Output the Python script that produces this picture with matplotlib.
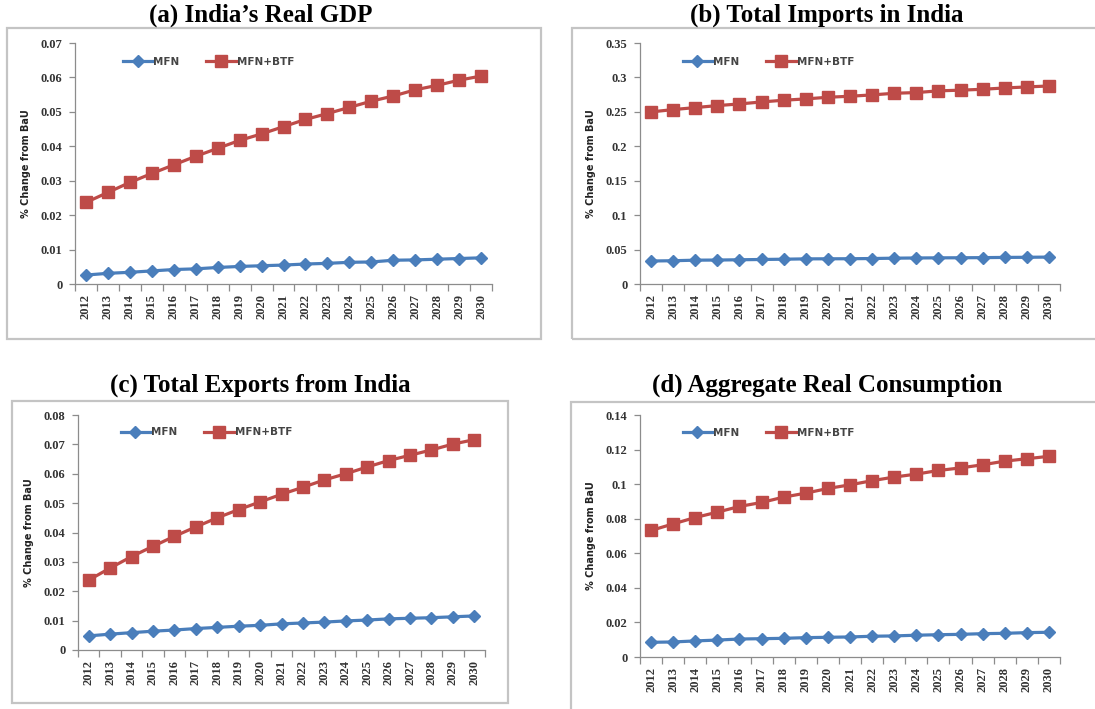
import matplotlib
matplotlib.use("Agg")
import matplotlib.pyplot as plt
from matplotlib.patches import Rectangle
from matplotlib.ticker import FuncFormatter, MultipleLocator
import numpy as np

years = [str(y) for y in range(2012, 2031)]

gdp_mfn = [0.0026, 0.0031, 0.0034, 0.0038, 0.0042, 0.0044, 0.0048, 0.0051, 0.0053, 0.0055,
           0.0058, 0.0060, 0.0063, 0.0064, 0.0069, 0.0070, 0.0072, 0.0074, 0.0076]
gdp_btf = [0.0237, 0.0266, 0.0295, 0.0321, 0.0346, 0.0371, 0.0394, 0.0417, 0.0436, 0.0457,
           0.0478, 0.0495, 0.0513, 0.0531, 0.0546, 0.0564, 0.0577, 0.0592, 0.0604]

imp_mfn = [0.0334, 0.0338, 0.0346, 0.0348, 0.0352, 0.0356, 0.0360, 0.0365, 0.0366, 0.0367,
           0.0370, 0.0375, 0.0378, 0.0380, 0.0381, 0.0383, 0.0386, 0.0388, 0.0391]
imp_btf = [0.2499, 0.2533, 0.2562, 0.2591, 0.2615, 0.2644, 0.2669, 0.2688, 0.2712, 0.2727,
           0.2746, 0.2770, 0.2780, 0.2805, 0.2815, 0.2828, 0.2847, 0.2862, 0.2876]

exp_mfn = [0.0048, 0.0054, 0.0059, 0.0064, 0.0068, 0.0073, 0.0077, 0.0081, 0.0084, 0.0089,
           0.0092, 0.0095, 0.0099, 0.0102, 0.0106, 0.0108, 0.0110, 0.0113, 0.0116]
exp_btf = [0.0238, 0.0279, 0.0318, 0.0353, 0.0387, 0.0419, 0.0450, 0.0478, 0.0504, 0.0530,
           0.0554, 0.0579, 0.0600, 0.0623, 0.0645, 0.0663, 0.0681, 0.0701, 0.0716]

con_mfn = [0.0085, 0.0087, 0.0093, 0.0098, 0.0104, 0.0106, 0.0108, 0.0112, 0.0114, 0.0116,
           0.0120, 0.0122, 0.0126, 0.0129, 0.0131, 0.0135, 0.0137, 0.0141, 0.0143]
con_btf = [0.0732, 0.0770, 0.0807, 0.0838, 0.0871, 0.0894, 0.0925, 0.0948, 0.0975, 0.0996,
           0.1020, 0.1041, 0.1058, 0.1079, 0.1094, 0.1112, 0.1133, 0.1147, 0.1161]

W, H = 1095, 709
fig = plt.figure(figsize=(W / 100, H / 100), dpi=100)

BLUE = "#4a7ebb"
RED = "#be4b48"
AXIS_GREY = "#8c8c8c"
TXT = "#333333"


def px_axes(left, right, top, bottom):
    # pixel box -> figure fraction rect
    return [left / W, 1 - bottom / H, (right - left) / W, (bottom - top) / H]


def frame(left, right, top, bottom):
    fig.patches.append(Rectangle((left / W, 1 - bottom / H), (right - left) / W, (bottom - top) / H,
                                 transform=fig.transFigure, fill=False,
                                 edgecolor="#c4c4c4", linewidth=1.6))


panels = [
    # title, mfn, btf, ymax, ystep, axes px box, title px, legend anchor, frame px
    ("(a) India\u2019s Real GDP", gdp_mfn, gdp_btf, 0.07, 0.01,
     (75, 492, 43, 284), (261, 15), (0.105, 0.96), (7, 541, 28, 339)),
    ("(b) Total Imports in India", imp_mfn, imp_btf, 0.35, 0.05,
     (640, 1060, 43, 284), (827, 15), (0.092, 0.96), (572, 1110, 28, 339)),
    ("(c) Total Exports from India", exp_mfn, exp_btf, 0.08, 0.01,
     (78, 485, 415, 650), (260, 385), (0.095, 0.965), (12, 508, 401, 703)),
    ("(d) Aggregate Real Consumption", con_mfn, con_btf, 0.14, 0.02,
     (640, 1060, 415, 657), (827, 385), (0.092, 0.965), (571, 1110, 402, 720)),
]

x = np.arange(len(years))

for title, mfn, btf, ymax, ystep, box, tpos, lpos, fr in panels:
    frame(*fr)
    ax = fig.add_axes(px_axes(*box))
    ax.plot(x, mfn, color=BLUE, lw=2.3, marker="D", ms=6, mec=BLUE, mfc=BLUE, label="MFN", zorder=3)
    ax.plot(x, btf, color=RED, lw=2.3, marker="s", ms=8, mec=RED, mfc=RED, label="MFN+BTF", zorder=3)

    ax.set_xlim(-0.5, len(years) - 0.5)
    ax.set_ylim(0, ymax)
    ax.yaxis.set_major_locator(MultipleLocator(ystep))
    ax.yaxis.set_major_formatter(FuncFormatter(lambda v, p: f"{round(v, 4):g}"))

    # category axis: ticks sit between the years
    ax.set_xticks(np.arange(-0.5, len(years), 1.0))
    ax.set_xticklabels([])
    ax.set_xticks(x, minor=True)
    ax.set_xticklabels(years, minor=True, rotation=90, fontsize=9,
                       family="Liberation Serif", fontweight="bold", color=TXT)
    ax.tick_params(axis="x", which="major", length=5, width=0.9, color=AXIS_GREY, direction="out")
    ax.tick_params(axis="x", which="minor", length=0, pad=7)
    ax.tick_params(axis="y", length=4, width=0.9, color=AXIS_GREY, direction="out", pad=5)
    for lab in ax.get_yticklabels():
        lab.set_fontsize(9)
        lab.set_family("Liberation Serif")
        lab.set_fontweight("bold")
        lab.set_color(TXT)

    for s in ("top", "right"):
        ax.spines[s].set_visible(False)
    for s in ("left", "bottom"):
        ax.spines[s].set_color(AXIS_GREY)
        ax.spines[s].set_linewidth(0.9)

    ax.set_ylabel("% Change from BaU", fontsize=7, fontweight="bold",
                  family="DejaVu Sans", color="#222222", labelpad=7)

    leg = ax.legend(loc="upper left", bbox_to_anchor=lpos, ncol=2, frameon=False,
                    fontsize=7.5, handlelength=2.8, columnspacing=2.6, handletextpad=0.1,
                    borderaxespad=0)
    for t in leg.get_texts():
        t.set_color("#444444")
        t.set_fontweight("bold")

    fig.text(tpos[0] / W, 1 - tpos[1] / H, title, ha="center", va="center",
             family="Liberation Serif", fontweight="bold", fontsize=18)

fig.savefig("out.png", dpi=100)
